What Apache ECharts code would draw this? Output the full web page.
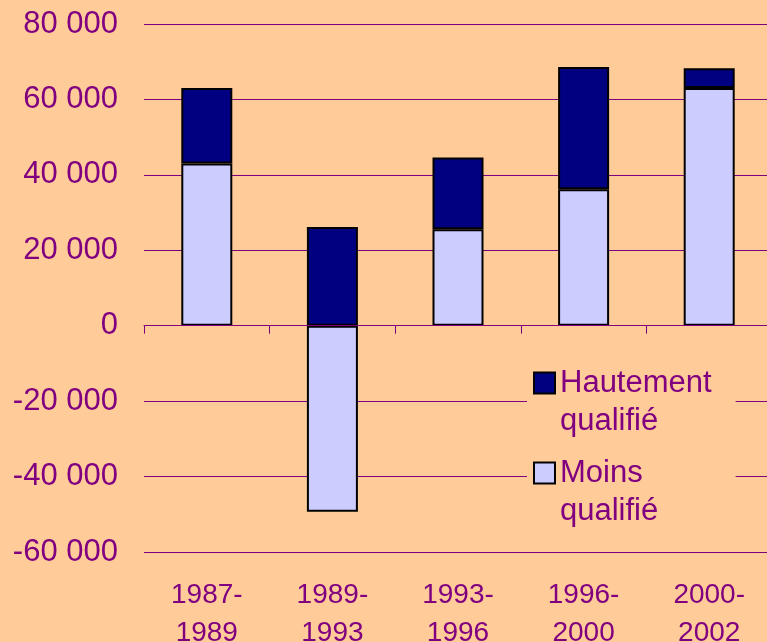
<!DOCTYPE html>
<html>
<head>
<meta charset="utf-8">
<script src="https://cdn.jsdelivr.net/npm/echarts@6/dist/echarts.min.js"></script>
<style>
  html, body { margin: 0; padding: 0; background: #ffcc99; }
  #chart { width: 767px; height: 642px; }
</style>
</head>
<body>
<div id="chart"></div>
<script>
const periods = ['1987-\n1989', '1989-\n1993', '1993-\n1996', '1996-\n2000', '2000-\n2002']
const moinsQualifie = [43000, -49300, 25600, 36200, 63000]
const hautementQualifie = [20000, 26200, 19000, 32400, 5300]

const purple = '#800080'
const font = "'Liberation Sans', Arial, sans-serif"

// "80 000" style thousands separator
const fmtNum = (v) => {
  const s = String(Math.abs(v)).replace(/\B(?=(\d{3})+(?!\d))/g, ' ')
  return (v < 0 ? '-' : '') + s
}

const chart = echarts.init(document.getElementById('chart'))

chart.setOption({
  backgroundColor: '#ffcc99',
  animation: false,
  grid: { left: 144, right: -5, top: 24, bottom: 90, outerBoundsMode: 'none', containLabel: false },
  legend: {
    data: ['Hautement\nqualifié', 'Moins\nqualifié'],
    orient: 'vertical',
    left: 527,
    top: 326,
    padding: [0, 24, 0, 6],
    backgroundColor: '#ffcc99',
    icon: 'rect',
    itemWidth: 21,
    itemHeight: 21,
    itemGap: -24,
    selectedMode: false,
    // empty first line so the icon sits level with the first text line
    formatter: (name) => ' \n' + name,
    textStyle: {
      color: purple,
      fontFamily: font,
      fontSize: 31,
      lineHeight: 38,
    },
  },
  xAxis: [
    {
      type: 'category',
      data: periods,
      position: 'bottom',
      axisLine: { show: false, onZero: false },
      axisTick: { show: false },
      axisLabel: {
        color: purple,
        fontFamily: font,
        fontSize: 28,
        lineHeight: 38,
        margin: 24,
      },
    },
    {
      type: 'category',
      data: periods,
      position: 'top',
      z: 10,
      axisLine: { show: true, onZero: true, lineStyle: { color: purple, width: 1 } },
      axisTick: { show: true, inside: true, length: 8, lineStyle: { color: purple } },
      axisLabel: { show: false },
    },
  ],
  yAxis: {
    type: 'value',
    min: -60000,
    max: 80000,
    interval: 20000,
    axisLine: { show: false },
    axisTick: { show: false },
    axisLabel: {
      color: purple,
      fontFamily: font,
      fontSize: 31,
      margin: 26,
      formatter: fmtNum,
    },
    splitLine: { lineStyle: { color: purple, width: 1 } },
  },
  series: [
    {
      name: 'Moins\nqualifié',
      type: 'bar',
      stack: 'total',
      xAxisIndex: 0,
      barWidth: 51,
      data: moinsQualifie,
      itemStyle: { color: '#ccccff', borderColor: '#000000', borderWidth: 2 },
    },
    {
      name: 'Hautement\nqualifié',
      type: 'bar',
      stack: 'total',
      xAxisIndex: 0,
      barWidth: 51,
      data: hautementQualifie,
      itemStyle: { color: '#000080', borderColor: '#000000', borderWidth: 2 },
    },
  ],
})
</script>
</body>
</html>
